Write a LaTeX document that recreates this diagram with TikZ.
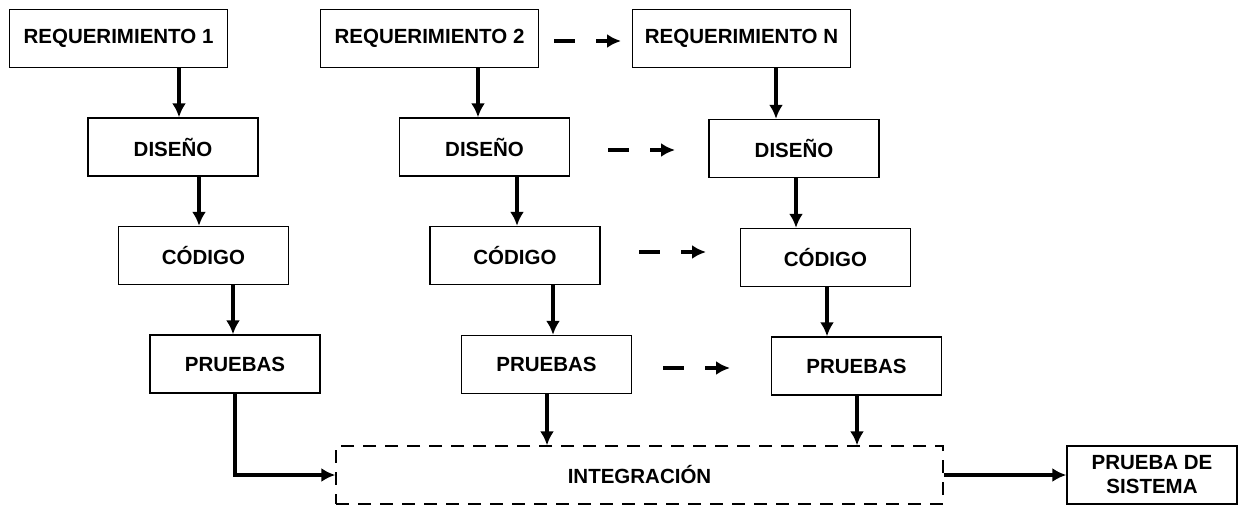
\documentclass[tikz,border=0pt]{standalone}
\usepackage{fontspec}
\setmainfont{Liberation Sans}
\usetikzlibrary{arrows.meta}
\tikzset{
  box/.style={draw,line width=1.4pt,minimum width=170pt,minimum height=58pt,
    inner sep=0pt,align=center,font=\fontsize{20.5}{24}\selectfont\bfseries},
  reqbox/.style={box,minimum width=218pt},
  intbox/.style={box,minimum width=607pt,dash pattern=on 13pt off 9pt},
  arr/.style={line width=3.2pt,-{Latex[length=14pt,width=14pt]}},
  dasharr/.style={arr,dash pattern=on 21pt off 21pt}
}

\begin{document}
\begin{tikzpicture}[x=1pt,y=-1pt]
\useasboundingbox (0,0) rectangle (1239,506);

% first requirement column
\node[reqbox] (Req1) at (118.5,38.5) {REQUERIMIENTO 1};
\node[box] (Dis1) at (173,147) {DISEÑO};
\node[box] (Cod1) at (203.5,255.5) {CÓDIGO};
\node[box] (Pru1) at (235,364) {PRUEBAS};

% second requirement column
\node[reqbox] (Req2) at (429.5,38.5) {REQUERIMIENTO 2};
\node[box] (Dis2) at (484.5,147) {DISEÑO};
\node[box] (Cod2) at (515,255.5) {CÓDIGO};
\node[box] (Pru2) at (546.5,364.5) {PRUEBAS};

% last requirement column
\node[reqbox] (ReqN) at (741.5,38.5) {REQUERIMIENTO N};
\node[box] (DisN) at (794,148.5) {DISEÑO};
\node[box] (CodN) at (825.5,257.5) {CÓDIGO};
\node[box] (PruN) at (856.5,366) {PRUEBAS};

\node[intbox] (Int) at (639.5,475) {INTEGRACIÓN};
\node[box] (PDS) at (1152,475) {PRUEBA DE\\SISTEMA};

% vertical flow
\draw[arr] (Req1.south -| 179,0) -- (Dis1.north -| 179,0);
\draw[arr] (Dis1.south -| 199,0) -- (Cod1.north -| 199,0);
\draw[arr] (Cod1.south -| 233,0) -- (Pru1.north -| 233,0);
\draw[arr] (Req2.south -| 478,0) -- (Dis2.north -| 478,0);
\draw[arr] (Dis2.south -| 517,0) -- (Cod2.north -| 517,0);
\draw[arr] (Cod2.south -| 553,0) -- (Pru2.north -| 553,0);
\draw[arr] (ReqN.south -| 776,0) -- (DisN.north -| 776,0);
\draw[arr] (DisN.south -| 796,0) -- (CodN.north -| 796,0);
\draw[arr] (CodN.south -| 827,0) -- (PruN.north -| 827,0);

\draw[arr] (Pru1.south) |- (Int.west);
\draw[arr] (Pru2.south -| 547,0) -- (Int.north -| 547,0);
\draw[arr] (PruN.south -| 857,0) -- (Int.north -| 857,0);
\draw[arr] (Int.east) -- (PDS.west);

% dashed arrows between columns
\coordinate (ra) at (554,41);  \coordinate (rb) at (621,41);
\coordinate (da) at (608,150); \coordinate (db) at (675,150);
\coordinate (ca) at (639,252); \coordinate (cb) at (706,252);
\coordinate (pa) at (663,368); \coordinate (pb) at (730,368);
\draw[dasharr] (ra) -- (rb);
\draw[dasharr] (da) -- (db);
\draw[dasharr] (ca) -- (cb);
\draw[dasharr] (pa) -- (pb);

\end{tikzpicture}
\end{document}
